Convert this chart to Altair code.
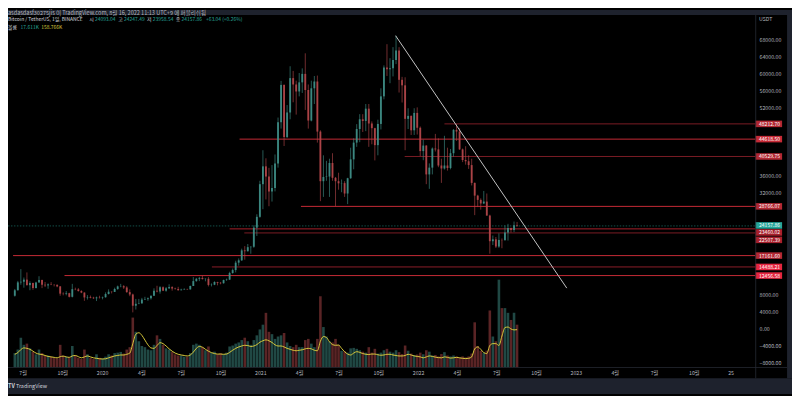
import altair as alt
import numpy as np
import pandas as pd

# ---------------- data ----------------
first_week = "2019-06-10"  # weekly candles (Monday start), BTC/USDT

# [open, high, low, close]
ohlc_2019 = [
    [7700, 9300, 7500, 8990], [8990, 11200, 8950, 10850], [10850, 13970, 10300, 11000],
    [11000, 12000, 9600, 11500], [11500, 13200, 10100, 10200], [10200, 11100, 9000, 10700],
    [10700, 10800, 9100, 9500], [9500, 11000, 9400, 10800], [10800, 12300, 10800, 11400],
    [11400, 11500, 9500, 10300], [10300, 10950, 9750, 10140], [10140, 10600, 9350, 10380],
    [10380, 10900, 10200, 10300], [10300, 10450, 9900, 10280], [10280, 10350, 9700, 9900],
    [9900, 10000, 7700, 8200], [8200, 8500, 7800, 8150], [8150, 8800, 7800, 8300],
    [8300, 8400, 7300, 7450], [7450, 10500, 7300, 9250], [9250, 9600, 9000, 9200],
    [9200, 9500, 8700, 8800], [8800, 9000, 8300, 8450], [8450, 8500, 6500, 7300],
    [7300, 7850, 6800, 7400], [7400, 7750, 7100, 7250], [7250, 7450, 6950, 7100],
    [7100, 7500, 6450, 7300], [7300, 7700, 7050, 7250], [7250, 7500, 6850, 7350],
]
ohlc_2020 = [
    [7350, 8500, 7250, 8100], [8100, 9200, 8000, 8650], [8650, 8750, 8250, 8600], [8600, 9600, 8600, 9300],
    [9300, 10100, 9100, 9900], [9900, 10500, 9700, 9950], [9950, 10200, 9300, 9650], [9650, 9950, 8400, 8550],
    [8550, 9200, 7600, 8000], [8000, 8200, 3782, 5350], [5350, 6950, 4450, 5800], [5800, 6950, 5700, 5900],
    [5900, 7200, 5850, 6800], [6800, 7450, 6700, 6900], [6900, 7300, 6500, 7100], [7100, 7750, 6800, 7700],
    [7700, 9450, 7650, 8900], [8900, 10050, 8500, 8700], [8700, 9950, 8200, 9700], [9700, 9900, 8800, 8900],
    [8900, 9750, 8650, 9450], [9450, 10400, 9300, 9750], [9750, 9950, 8900, 9400], [9400, 9600, 9150, 9300],
    [9300, 9800, 8900, 9000], [9000, 9350, 8950, 9150], [9150, 9450, 9100, 9250], [9250, 9350, 9050, 9200],
    [9200, 10100, 9150, 10000], [10000, 12100, 10000, 11150], [11150, 11900, 11000, 11700], [11700, 12150, 11150, 11900],
    [11900, 12450, 11500, 11650], [11650, 11800, 11100, 11700], [11700, 12100, 9900, 10250], [10250, 10600, 9900, 10300],
    [10300, 11100, 10200, 10950], [10950, 10980, 10150, 10750], [10750, 10950, 10400, 10650], [10650, 11500, 10550, 11400],
    [11400, 11750, 11200, 11500], [11500, 13350, 11400, 13050], [13050, 14100, 12900, 13750], [13750, 15950, 13200, 15500],
    [15500, 16500, 14800, 16050], [16050, 18800, 15900, 18400], [18400, 19400, 16200, 18200], [18200, 19900, 18100, 19150],
    [19150, 19350, 17600, 19250], [19250, 24300, 19000, 23750], [23750, 26900, 21800, 26300], [26300, 34800, 26100, 34000],
]
ohlc_2021 = [
    [34000, 42000, 28100, 38200], [38200, 40100, 30400, 35800], [35800, 37850, 28800, 32250], [32250, 38500, 29900, 33100],
    [33100, 41000, 32300, 38900], [38900, 49700, 37900, 48600], [48600, 58350, 47100, 57400], [57400, 57500, 43000, 45100],
    [45100, 52650, 44900, 50900], [50900, 61800, 49300, 59000], [59000, 60700, 53300, 57500], [57500, 58400, 50400, 55850],
    [55850, 60200, 54700, 58000], [58000, 61300, 55500, 60000], [60000, 64850, 51500, 56200], [56200, 57500, 47100, 49000],
    [49000, 58400, 48800, 56600], [56600, 59500, 52900, 58200], [58200, 59600, 43800, 46400], [46400, 46700, 30000, 34700],
    [34700, 40800, 31000, 35700], [35700, 39500, 34800, 35800], [35800, 40000, 31000, 39000], [39000, 41300, 34800, 35500],
    [35500, 35700, 28800, 34700], [34700, 36700, 32700, 34200], [34200, 35100, 32100, 34250], [34250, 34700, 31000, 31800],
    [31800, 35500, 29300, 35400], [35400, 42600, 35250, 39850], [39850, 44800, 37500, 43800], [43800, 48150, 42800, 47000],
    [47000, 50500, 43900, 49300], [49300, 50500, 46300, 48900], [48900, 52900, 46500, 51800], [51800, 52900, 42800, 48300],
    [48300, 48800, 43400, 47200], [47200, 47300, 39600, 43200], [43200, 49200, 40800, 48200], [48200, 56600, 46900, 54700],
    [54700, 62000, 54000, 61500], [61500, 67000, 59500, 61100], [61100, 63700, 57800, 61300], [61300, 66300, 59400, 63300],
    [63300, 69000, 62300, 65500], [65500, 66300, 55600, 58600], [58600, 59300, 53250, 57300], [57300, 59200, 42000, 49400],
    [49400, 51900, 47000, 50100], [50100, 50200, 45600, 46700], [46700, 51900, 45600, 50800], [50800, 52100, 45700, 47300],
]
ohlc_2022 = [
    [47300, 47600, 40600, 41800], [41800, 44500, 39650, 43100], [43100, 43200, 34000, 36300], [36300, 38900, 32900, 37900],
    [37900, 42650, 36300, 42400], [42400, 45850, 41700, 42200], [42200, 44800, 38000, 38400], [38400, 40000, 34300, 37700],
    [37700, 45400, 37450, 38400], [38400, 42600, 37200, 37800], [37800, 42300, 37500, 41300], [41300, 47000, 40500, 46800],
    [46800, 48200, 44200, 46400], [46400, 47200, 42100, 42200], [42200, 42400, 39200, 39700], [39700, 42950, 38600, 39400],
    [39400, 40800, 37600, 38500], [38500, 40000, 33700, 34300], [34300, 34400, 26700, 31300], [31300, 31500, 28600, 30300],
    [30300, 30650, 28000, 29450], [29450, 32400, 29300, 29900], [29900, 31800, 26550, 26600], [26600, 26800, 17620, 20550],
    [20550, 21900, 19650, 21000], [21000, 21550, 18950, 19300], [19300, 22400, 19000, 20850], [20850, 21200, 18900, 20800],
    [20800, 24300, 20750, 22600], [22600, 24650, 20700, 23650], [23650, 23750, 22600, 23200], [23200, 25200, 22700, 24300],
    [24300, 25100, 23950, 24157.86],
]

# daily volume (thousand BTC) per week and its moving average
vol_2019 = [60, 75, 125, 95, 100, 80, 65, 55, 75, 60, 48, 50, 45, 40, 38, 95, 50, 45, 42, 90,
            50, 40, 35, 75, 55, 40, 35, 55, 40, 38]
vol_2020 = [45, 55, 50, 60, 62, 65, 58, 75, 85, 210, 150, 110, 90, 85, 75, 72, 95, 135, 120, 95,
            80, 75, 65, 55, 50, 50, 45, 45, 60, 95, 100, 95, 85, 72, 88, 62, 66, 56, 60, 55,
            62, 88, 92, 100, 105, 115, 125, 110, 95, 115, 135, 160]
vol_2021 = [180, 230, 150, 140, 120, 130, 135, 145, 105, 90, 85, 95, 85, 85, 115, 120, 100, 85, 120, 300,
            170, 130, 110, 105, 120, 95, 70, 68, 62, 80, 82, 78, 72, 66, 62, 85, 62, 78, 58, 62,
            72, 78, 66, 62, 72, 64, 56, 92, 70, 58, 52, 54]
vol_2022 = [62, 55, 72, 66, 50, 52, 46, 56, 64, 50, 46, 50, 46, 42, 46, 42, 46, 58, 190, 90,
            70, 62, 70, 240, 130, 110, 370, 250, 250, 230, 200, 230, 180]
ma_2019 = [55, 62, 75, 82, 80, 76, 68, 60, 56, 54, 50, 46, 44, 42, 40, 45, 47, 44, 42, 48,
           50, 45, 40, 44, 48, 44, 40, 38, 36, 35]
ma_2020 = [36, 40, 44, 48, 50, 52, 52, 55, 60, 100, 140, 146, 135, 115, 95, 82, 80, 92, 104, 100,
           90, 78, 68, 60, 55, 52, 50, 48, 52, 64, 80, 88, 85, 76, 68, 62, 58, 56, 56, 55,
           56, 63, 72, 80, 86, 90, 93, 92, 88, 90, 96, 106]
ma_2021 = [112, 116, 112, 105, 95, 90, 90, 86, 80, 76, 72, 70, 72, 74, 78, 80, 78, 72, 70, 110,
           130, 126, 108, 96, 93, 94, 80, 66, 56, 52, 60, 66, 63, 58, 55, 54, 56, 56, 53, 51,
           52, 55, 55, 52, 50, 48, 48, 50, 55, 52, 48, 46]
ma_2022 = [44, 40, 44, 48, 46, 43, 41, 40, 44, 42, 39, 40, 42, 40, 38, 37, 38, 44, 78, 86,
           76, 62, 58, 92, 100, 100, 92, 132, 168, 170, 162, 158, 159]

level_values = [48212.70, 44618.50, 40529.75, 28766.07, 23460.02, 22507.39, 17161.60, 14488.21, 12456.58]
level_start = ["2022-03-03", "2020-11-14", "2021-12-01", "2021-04-05", "2020-10-22",
               "2020-11-25", "2019-06-09", "2020-09-11", "2019-10-06"]
current_price = 24157.86
trend_from = ["2021-11-10", 69000.0]
trend_to = ["2022-12-11", 9500.0]

# right-axis ticks that are not hidden behind the price labels
price_ticks = [-8000, -4000, 0, 4000, 8000, 32000, 36000, 52000, 56000, 60000, 64000, 68000]
time_ticks = ["2019-07-01", "2019-10-01", "2020-01-01", "2020-04-01", "2020-07-01", "2020-10-01",
              "2021-01-01", "2021-04-01", "2021-07-01", "2021-10-01", "2022-01-01", "2022-04-01",
              "2022-07-01", "2022-10-01", "2023-01-01", "2023-04-01", "2023-07-01", "2023-10-01", "2023-12-25"]
time_labels = ["7월", "10월", "2020", "4월", "7월", "10월", "2021", "4월", "7월", "10월", "2022", "4월",
               "7월", "10월", "2023", "4월", "7월", "10월", "25"]

# ---------------- styles / layout ----------------
FONT = "Noto Sans CJK KR"
TEAL, RED = "#26a69a", "#ef5350"
TXT, TXT2 = "#b2b5be", "#d1d4dc"
YELLOW = "#d9c93b"
BAND = "#1e222d"
SEP = "#262a33"
level_line_color = ["#7b1c24", "#c62a36", "#7b1c24", "#c62a36", "#a8202c", "#7b1c24", "#c62a36", "#8b1d28", "#c62a36"]
level_box_color = ["#b22833", "#c62a36", "#b22833", "#b22833", "#a8202c", "#a8202c", "#b22833", "#e5263f", "#e5263f"]
level_nudge_px = [0, 0, 0, 0, 3.6, 7.0, 0, 0, 0]
current_nudge_px = -0.5

W, H = 755, 356
XMIN, XMAX = -206.3, 1499.9
YMIN, YMAX = -9170, 73900
VMAX = 1488
PX_PER_UNIT = H / (YMAX - YMIN)

EPOCH = pd.Timestamp("2020-01-01")


def day(s):
    return (pd.Timestamp(s) - EPOCH).days


# ---------------- tables ----------------
ohlc = ohlc_2019 + ohlc_2020 + ohlc_2021 + ohlc_2022
cd = pd.DataFrame(ohlc, columns=["open", "high", "low", "close"])
weeks = pd.date_range(first_week, periods=len(cd), freq="7D")
cd["x"] = np.asarray((weeks - EPOCH).days, dtype=float) + 3.0
cd["dir"] = np.where(cd["close"] >= cd["open"], "up", "down")
cd["vol"] = vol_2019 + vol_2020 + vol_2021 + vol_2022
cd["ma"] = ma_2019 + ma_2020 + ma_2021 + ma_2022

lv = pd.DataFrame({
    "value": level_values,
    "start": [day(s) for s in level_start],
    "lc": level_line_color,
})
lb = pd.DataFrame({
    "ylab": [current_price - current_nudge_px / PX_PER_UNIT]
            + [v - n / PX_PER_UNIT for v, n in zip(level_values, level_nudge_px)],
    "lab": [f"{current_price:.2f}"] + [f"{v:.2f}" for v in level_values],
    "bc": [TEAL] + level_box_color,
})
td = pd.DataFrame({"x1": [day(trend_from[0])], "y1": [trend_from[1]],
                   "x2": [day(trend_to[0])], "y2": [trend_to[1]]})

tick_days = [day(s) for s in time_ticks]
expr = "''"
for v, lab in reversed(list(zip(tick_days, time_labels))):
    expr = f"datum.value == {v} ? '{lab}' : ({expr})"

XS = alt.Scale(domain=[XMIN, XMAX], nice=False, zero=False)
YS = alt.Scale(domain=[YMIN, YMAX], nice=False, zero=False)
VS = alt.Scale(domain=[0, VMAX], nice=False)

AX_X = alt.Axis(values=tick_days, labelExpr=expr, title=None, orient="bottom", ticks=False,
                domain=False, grid=False, labelFlush=False, labelOverlap=False,
                labelBaseline="middle", labelPadding=5.3, labelColor=TXT, labelFontSize=5.3,
                labelFont=FONT)
AX_Y = alt.Axis(values=price_ticks, format=".2f", title=None, orient="right", ticks=False,
                domain=False, grid=False, labelFlush=False, labelOverlap=False,
                labelAlign="left", labelBaseline="middle", labelPadding=3.7, labelColor=TXT,
                labelFontSize=5.3, labelFont=FONT)
COL = alt.Color("dir:N", scale=alt.Scale(domain=["up", "down"], range=[TEAL, RED]), legend=None)
VCOL = alt.Color("dir:N", scale=alt.Scale(domain=["up", "down"], range=["#3f8f87", "#b4474a"]), legend=None)


def X(f):
    return alt.X(f, scale=XS, axis=AX_X)


def Y(f):
    return alt.Y(f, scale=YS, axis=AX_Y)


def txt(s, x, y, color, size=5.0, weight="normal"):
    return alt.Chart(pd.DataFrame({"t": [s]})).mark_text(
        align="left", baseline="middle", fontSize=size, fontWeight=weight, font=FONT, color=color
    ).encode(x=alt.value(x), y=alt.value(y), text="t:N")


def rect(x, x2, y, y2, color):
    return alt.Chart(pd.DataFrame({"a": [0]})).mark_rect(color=color).encode(
        x=alt.value(x), x2=alt.value(x2), y=alt.value(y), y2=alt.value(y2))


# ---------------- layers ----------------
vbars = alt.Chart(cd).mark_bar(width=2.6, opacity=0.5).encode(
    x=X("x:Q"), y=alt.Y("vol:Q", scale=VS, axis=None), color=VCOL)
vma = alt.Chart(cd).mark_line(color=YELLOW, strokeWidth=1, interpolate="monotone").encode(
    x=X("x:Q"), y=alt.Y("ma:Q", scale=VS, axis=None))
vol_group = alt.layer(vbars, vma)

levels = alt.Chart(lv).mark_rule(strokeWidth=1).encode(
    x=X("start:Q"), x2=alt.value(W), y=Y("value:Q"), color=alt.Color("lc:N", scale=None))
cur = alt.Chart(pd.DataFrame({"value": [current_price]})).mark_rule(
    strokeDash=[1.5, 1.5], color=TEAL, opacity=0.6, strokeWidth=0.8).encode(
    x=alt.value(0), x2=alt.value(W), y=Y("value:Q"))
wicks = alt.Chart(cd).mark_rule(strokeWidth=0.7, opacity=0.9).encode(
    x=X("x:Q"), y=Y("low:Q"), y2="high:Q", color=COL)
bodies = alt.Chart(cd).mark_bar(width=1.9, opacity=0.9).encode(
    x=X("x:Q"), y=Y("open:Q"), y2="close:Q", color=COL)
trend = alt.Chart(td).mark_rule(color="#c4c4c4", strokeWidth=1).encode(
    x=X("x1:Q"), x2="x2:Q", y=Y("y1:Q"), y2="y2:Q")
boxes = alt.Chart(lb).mark_rect(yOffset=-3.3, y2Offset=3.3).encode(
    x=alt.value(W), x2=alt.value(W + 27), y=Y("ylab:Q"), y2="ylab:Q",
    color=alt.Color("bc:N", scale=None))
boxtext = alt.Chart(lb).mark_text(align="left", baseline="middle", fontSize=5.1,
                                  color="#ffffff", font=FONT).encode(
    x=alt.value(W + 3.7), y=Y("ylab:Q"), text="lab:N")
price_group = alt.layer(levels, cur, wicks, bodies, trend, boxes, boxtext)

overlays = [
    rect(0, 792, -5, 0, BAND),
    rect(0, 792, 367, 383, BAND),
    rect(787, 792, 0, 367, BAND),
    rect(W, W + 0.8, 0, 367, SEP),
    rect(0, 787, H, H + 0.8, SEP),
    txt("asdasdasf30275jis 이 TradingView.com, 8월 16, 2022 11:13 UTC+9 에 퍼블리쉬됨", 0, -2.4, TXT, 5.6),
    txt("Bitcoin / TetherUS, 1일, BINANCE", 0, 4.3, TXT2),
    txt("시", 82, 4.3, TXT2), txt("24093.04", 87.8, 4.3, TEAL),
    txt("고", 111.5, 4.3, TXT2), txt("24247.49", 117.3, 4.3, TEAL),
    txt("저", 140.5, 4.3, TXT2), txt("23958.54", 146.3, 4.3, TEAL),
    txt("종", 169.5, 4.3, TXT2), txt("24157.86", 175.3, 4.3, TEAL),
    txt("+63.04 (+0.26%)", 200, 4.3, TEAL),
    txt("볼륨", 0, 12, TXT2), txt("17.611K", 12.7, 12, TEAL), txt("158.766K", 33.5, 12, YELLOW),
    txt("USDT", W + 3.7, 4.3, TXT, 5.3),
    txt("TV", 0, 375, TXT2, 5.5, "bold"),
    txt("TradingView", 8, 375, TXT2, 5.5),
]

chart = alt.layer(vol_group, price_group, *overlays).resolve_scale(y="independent").properties(
    width=W, height=H,
    autosize=alt.AutoSizeParams(type="none"),
    padding={"left": 0, "top": 5, "right": 37, "bottom": 27},
).configure(background="#000000").configure_view(strokeWidth=0)

chart.save("out.html", embed_options={"renderer": "svg", "actions": False})
